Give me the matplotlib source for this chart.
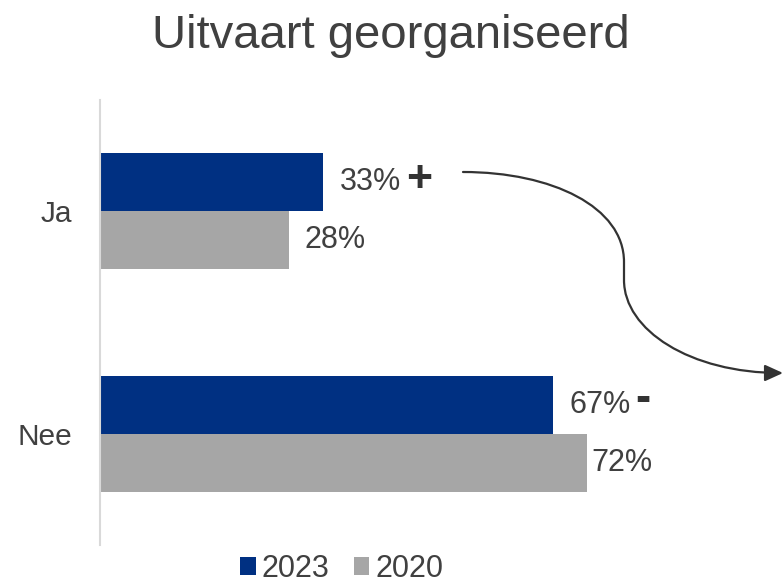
import numpy as np
import matplotlib.pyplot as plt
from matplotlib.path import Path
from matplotlib.patches import FancyArrowPatch

plt.rcParams['font.family'] = ['Liberation Sans', 'DejaVu Sans']

# data
categories = ['Ja', 'Nee']
years = ['2023', '2020']
values_2023 = [33, 67]
values_2020 = [28, 72]
changes = ['+', '-']  # significant change 2023 vs 2020

navy = '#003082'
grey = '#A6A6A6'
txt = '#404040'

fig = plt.figure(figsize=(7.84, 5.84), dpi=100)
ax = fig.add_axes([100 / 784, 39 / 584, 676 / 784, 445 / 584])

y = np.arange(len(categories))
h = 0.261
b1 = ax.barh(y - h / 2, values_2023, height=h, color=navy, label=years[0])
b2 = ax.barh(y + h / 2, values_2020, height=h, color=grey, label=years[1])

ax.set_xlim(0, 100)
ax.set_ylim(1.5, -0.5)
ax.set_yticks(y)
ax.set_yticklabels(categories)
ax.set_xticks([])
ax.tick_params(axis='y', length=0, pad=20, labelsize=21.5, labelcolor=txt)
for s in ['top', 'right', 'bottom']:
    ax.spines[s].set_visible(False)
ax.spines['left'].set_color('#D9D9D9')
ax.spines['left'].set_linewidth(1.5)

# value labels
offs_2023 = [12, 12]
offs_2020 = [11, 3]
for i, v in enumerate(values_2023):
    ax.annotate(f'{v}%', (v, y[i] - h / 2), xytext=(offs_2023[i], 0), textcoords='offset points',
                va='center', ha='left', fontsize=22, color=txt)
for i, v in enumerate(values_2020):
    ax.annotate(f'{v}%', (v, y[i] + h / 2), xytext=(offs_2020[i], 0), textcoords='offset points',
                va='center', ha='left', fontsize=22, color=txt)

# change markers
ax.annotate(changes[0], (values_2023[0], y[0] - h / 2), xytext=(69, 1), textcoords='offset points',
            va='center', ha='center', fontsize=32, fontweight='bold', color='#333333')
ax.annotate(changes[1], (values_2023[1], y[1] - h / 2), xytext=(65, 4), textcoords='offset points',
            va='center', ha='center', fontsize=33, fontweight='bold', color='#333333')

fig.suptitle('Uitvaart georganiseerd', x=391 / 784, y=1 - 36 / 584, va='center',
             fontsize=34, color=txt)

fig.legend(loc='center', bbox_to_anchor=(342 / 784, 1 - 569 / 584), ncol=2, frameon=False,
           fontsize=22, handlelength=0.5, handleheight=0.5, handletextpad=0.2,
           columnspacing=0.8, labelcolor=txt, borderaxespad=0, borderpad=0)

# curved arrow
W, H = 784, 584
pts = [(463, 172), (552, 172), (624, 207), (624, 262),
       (624, 280),
       (624, 330), (690, 373), (783, 373)]
codes = [Path.MOVETO, Path.CURVE4, Path.CURVE4, Path.CURVE4,
         Path.LINETO,
         Path.CURVE4, Path.CURVE4, Path.CURVE4]
pts = [(px / W, 1 - py / H) for px, py in pts]
arrow = FancyArrowPatch(path=Path(pts, codes), arrowstyle='-|>,head_length=11,head_width=5',
                        color='#333333', lw=1.6, transform=fig.transFigure, mutation_scale=1)
fig.patches.append(arrow)

fig.savefig('out.png', dpi=100)
